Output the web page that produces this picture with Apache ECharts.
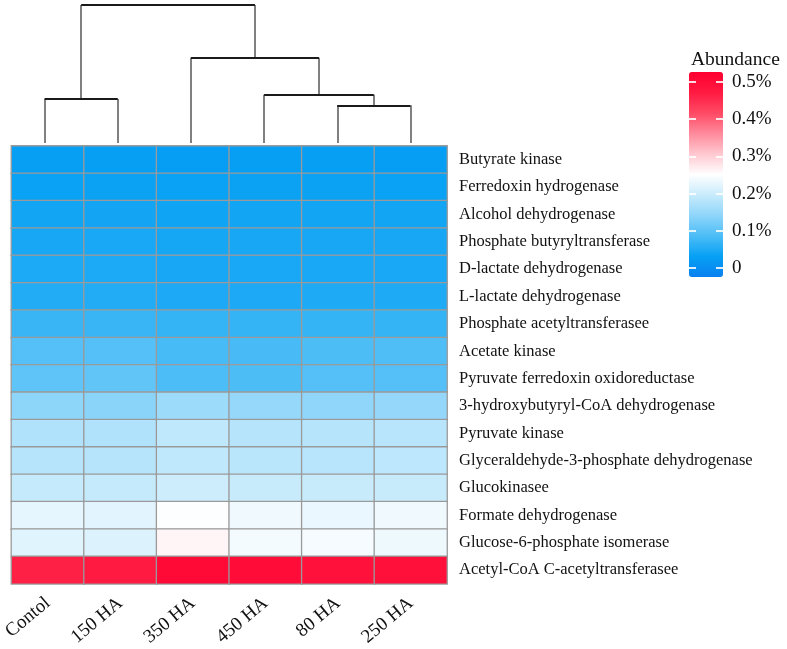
<!DOCTYPE html>
<html>
<head>
<meta charset="utf-8">
<script src="https://cdn.jsdelivr.net/npm/echarts@6/dist/echarts.min.js"></script>
<style>
html,body{margin:0;padding:0;background:#fff;}
#main{width:787px;height:649px;}
</style>
</head>
<body>
<div id="main"></div>
<script>
// Samples (column order as drawn, after clustering)
const samples = ['Contol', '150 HA', '350 HA', '450 HA', '80 HA', '250 HA'];
// Enzymes (top to bottom)
const enzymes = [
  'Butyrate kinase', 'Ferredoxin hydrogenase', 'Alcohol dehydrogenase',
  'Phosphate butyryltransferase', 'D-lactate dehydrogenase', 'L-lactate dehydrogenase',
  'Phosphate acetyltransferasee', 'Acetate kinase', 'Pyruvate ferredoxin oxidoreductase',
  '3-hydroxybutyryl-CoA dehydrogenase', 'Pyruvate kinase',
  'Glyceraldehyde-3-phosphate dehydrogenase', 'Glucokinasee', 'Formate dehydrogenase',
  'Glucose-6-phosphate isomerase', 'Acetyl-CoA C-acetyltransferasee'
];
// Abundance (%) per sample, one value per enzyme (top to bottom)
const contol = [0.028, 0.033, 0.039, 0.044, 0.047, 0.052, 0.070, 0.092, 0.101, 0.140, 0.172, 0.177, 0.192, 0.224, 0.219, 0.463];
const ha150  = [0.028, 0.034, 0.040, 0.045, 0.047, 0.052, 0.070, 0.092, 0.103, 0.137, 0.173, 0.177, 0.192, 0.221, 0.215, 0.470];
const ha350  = [0.027, 0.033, 0.038, 0.042, 0.044, 0.048, 0.066, 0.081, 0.085, 0.154, 0.187, 0.187, 0.200, 0.248, 0.260, 0.505];
const ha450  = [0.028, 0.034, 0.039, 0.043, 0.045, 0.048, 0.066, 0.082, 0.086, 0.147, 0.177, 0.182, 0.195, 0.235, 0.238, 0.500];
const ha80   = [0.029, 0.034, 0.039, 0.043, 0.045, 0.049, 0.067, 0.086, 0.092, 0.142, 0.177, 0.180, 0.195, 0.229, 0.240, 0.488];
const ha250  = [0.027, 0.033, 0.039, 0.043, 0.045, 0.049, 0.067, 0.088, 0.092, 0.146, 0.180, 0.184, 0.195, 0.234, 0.233, 0.492];
const columns = [contol, ha150, ha350, ha450, ha80, ha250];
// Legend tick labels
const legendTicks = [0, 0.1, 0.2, 0.3, 0.4, 0.5];
// Dendrogram merges: [leftNode, rightNode, height]; leaves are 0..5, new nodes 6,7,...
const merges = [
  [0, 1, 0.319],
  [4, 5, 0.273],
  [3, 7, 0.350],
  [2, 8, 0.618],
  [6, 9, 1.000]
];

// Build heatmap data
const heatData = [];
columns.forEach((col, ci) => col.forEach((v, ri) => heatData.push([ci, ri, v])));

// Build dendrogram segments
const nodeX = samples.map((_, i) => i + 0.5);
const nodeH = samples.map(() => 0);
const vSegs = [], hSegs = [];
merges.forEach(([a, b, h]) => {
  const xa = nodeX[a], xb = nodeX[b];
  vSegs.push({coords: [[xa, nodeH[a]], [xa, h]]});
  vSegs.push({coords: [[xb, nodeH[b]], [xb, h]]});
  hSegs.push({coords: [[xa, h], [xb, h]]});
  nodeX.push((xa + xb) / 2);
  nodeH.push(h);
});

const serif = 'Liberation Serif, Times New Roman, serif';
const chart = echarts.init(document.getElementById('main'), null, {renderer: 'canvas'});
chart.setOption({
  backgroundColor: '#ffffff',
  animation: false,
  title: {
    text: 'Abundance', left: 686, top: 45,
    textStyle: {fontFamily: serif, fontSize: 19.5, fontWeight: 'normal', color: '#111'}
  },
  grid: [
    {left: 8, top: 146, width: 439, height: 440},
    {left: 8, top: 5, width: 439, height: 138},
    {left: 689, top: 81.7, width: 34, height: 186.5}
  ],
  xAxis: [
    {type: 'category', gridIndex: 0, data: samples, position: 'bottom',
     axisLine: {show: false}, axisTick: {show: false}, splitLine: {show: false},
     axisLabel: {rotate: 40, fontFamily: serif, fontSize: 19, color: '#111', margin: 17, interval: 0}},
    {type: 'value', gridIndex: 1, min: 0, max: 6, show: false},
    {type: 'value', gridIndex: 2, min: 0, max: 1, show: false}
  ],
  yAxis: [
    {type: 'category', gridIndex: 0, data: enzymes, inverse: true, position: 'right',
     axisLine: {show: false}, axisTick: {show: false}, splitLine: {show: false},
     axisLabel: {fontFamily: serif, fontSize: 16.5, color: '#111', margin: 12, interval: 0}},
    {type: 'value', gridIndex: 1, min: 0, max: 1, show: false},
    {type: 'value', gridIndex: 2, min: 0, max: 0.5, interval: 0.1, position: 'right', z: 10,
     axisLine: {show: false}, axisTick: {show: false},
     splitLine: {show: true, lineStyle: {color: 'rgba(255,255,255,0.85)', width: 2, type: [7, 20]}},
     axisLabel: {fontFamily: serif, fontSize: 19, color: '#111', margin: 9,
       customValues: legendTicks,
       formatter: v => v === 0 ? '0' : (Math.round(v * 10) / 10).toFixed(1) + '%'}}
  ],
  visualMap: {
    type: 'continuous', seriesIndex: 0, min: -0.025, max: 0.525,
    calculable: false, orient: 'vertical', left: 674, top: 57,
    itemWidth: 34, itemHeight: 205, text: null, showLabel: false,
    inRange: {color: ['#0a80f0', '#06a0f4', '#4cbdf6', '#8ed5fa', '#c8ebfc', '#ffffff',
                      '#ffc8d0', '#ff8a9c', '#ff4a64', '#ff1a42', '#ff0030']}
  },
  series: [
    {type: 'heatmap', xAxisIndex: 0, yAxisIndex: 0, data: heatData,
     itemStyle: {borderColor: '#9a9a9a', borderWidth: 1.3}},
    {type: 'lines', coordinateSystem: 'cartesian2d', xAxisIndex: 1, yAxisIndex: 1,
     data: vSegs, lineStyle: {color: '#6a6a6a', width: 1.7, opacity: 1}, silent: true},
    {type: 'lines', coordinateSystem: 'cartesian2d', xAxisIndex: 1, yAxisIndex: 1,
     data: hSegs, lineStyle: {color: '#1a1a1a', width: 2, opacity: 1}, silent: true}
  ]
});
</script>
</body>
</html>
